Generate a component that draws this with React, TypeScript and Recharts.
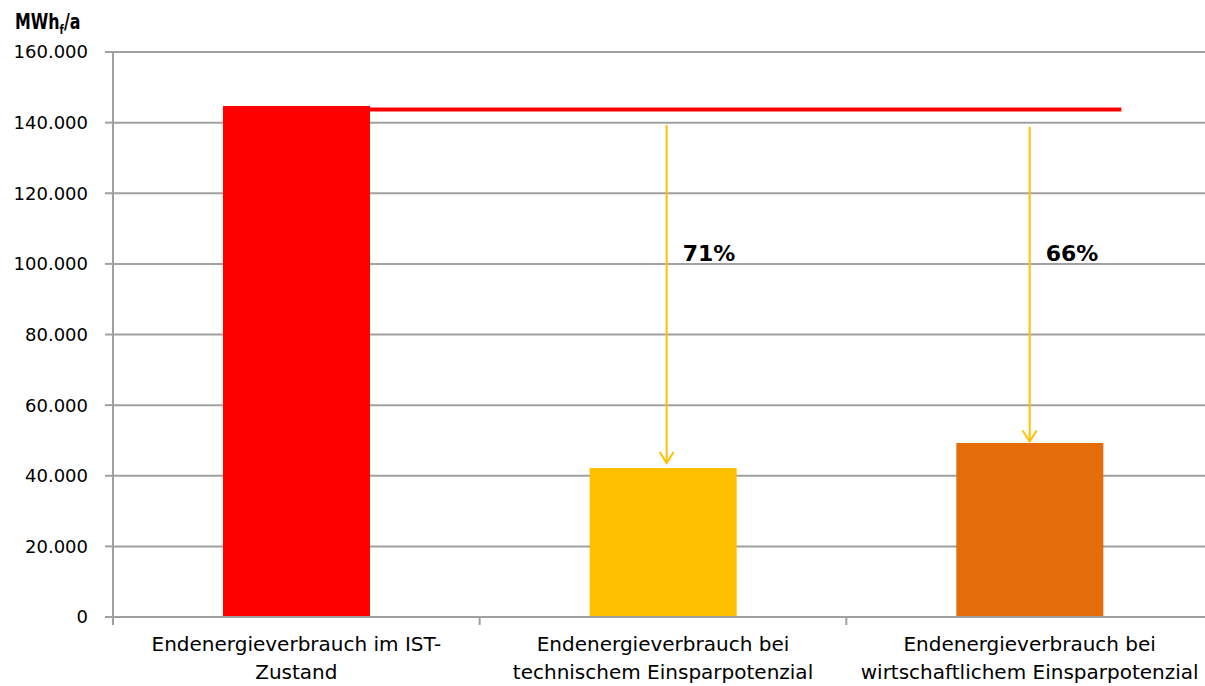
import { ComposedChart, Bar, XAxis, YAxis, CartesianGrid, ReferenceLine, ReferenceDot, Cell } from 'recharts';

// categories (two-line labels) and final energy consumption in MWh_f/a
const categories = [
  'Endenergieverbrauch im IST-\nZustand',
  'Endenergieverbrauch bei\ntechnischem Einsparpotenzial',
  'Endenergieverbrauch bei\nwirtschaftlichem Einsparpotenzial',
];
const consumption = [144700, 42200, 49300];
const barColors = ['#FF0000', '#FFC000', '#E46C0A'];
const yTicks = [0, 20000, 40000, 60000, 80000, 100000, 120000, 140000, 160000];

// reference level of the current state, drawn across the chart (x in category units)
const baselineLevel = 143700;
const baselineFrom = 0.7;
const baselineTo = 2.75;

// savings arrows (x in category units, y in MWh_f/a)
const arrowX = [1.51, 2.5];
const arrowFrom = [139300, 138800];
const arrowTo = [43600, 49700];
const savingsLabels = ['71%', '66%'];
const savingsLabelLevel = 103000;

// x axis in category units: boundaries at whole numbers, labels at the half steps
const xTicks = [0, 0.5, 1, 1.5, 2, 2.5, 3];

const data = categories.map((name, i) => ({ x: i + 0.5, name, value: consumption[i] }));

const formatThousands = (v: number) => String(v).replace(/\B(?=(\d{3})+(?!\d))/g, '.');

function CategoryTick({ x, y, payload }: any) {
  const v = Number(payload.value);
  if (Number.isInteger(v)) {
    return <line x1={x} y1={y} x2={x} y2={y + 8} stroke="#A0A0A0" strokeWidth={2} />;
  }
  const lines = categories[Math.floor(v)].split('\n');
  return (
    <text x={x} y={y} textAnchor="middle" fill="#000" fontSize={20}>
      {lines.map((line, i) => (
        <tspan key={i} x={x} dy={i === 0 ? 34 : 28}>
          {line}
        </tspan>
      ))}
    </text>
  );
}

function ArrowShape({ x1, y1, x2, y2 }: any) {
  return (
    <g>
      <line x1={x1} y1={y1} x2={x2} y2={y2} stroke="#FFC000" strokeWidth={2} />
      <polyline
        points={`${x2 - 7},${y2 - 11} ${x2},${y2} ${x2 + 7},${y2 - 11}`}
        fill="none"
        stroke="#FFC000"
        strokeWidth={2}
      />
    </g>
  );
}

export default function App() {
  return (
    <div
      style={{
        position: 'absolute',
        left: 0,
        top: 0,
        width: 1205,
        height: 686,
        overflow: 'hidden',
        background: '#fff',
        fontFamily: '"DejaVu Sans", Verdana, sans-serif',
      }}
    >
      <div
        style={{
          position: 'absolute',
          left: 15,
          top: 10,
          fontSize: 21,
          fontWeight: 'bold',
          color: '#000',
          fontFamily: '"DejaVu Sans Condensed", "DejaVu Sans", sans-serif',
          transform: 'scaleX(0.84)',
          transformOrigin: 'left center',
        }}
      >
        MWh<sub style={{ fontSize: 13 }}>f</sub>/a
      </div>
      <ComposedChart
        width={1213}
        height={686}
        data={data}
        margin={{ top: 52, right: 0, left: 0, bottom: 0 }}
      >
        <CartesianGrid vertical={false} stroke="#A0A0A0" strokeWidth={2} />
        <XAxis
          dataKey="x"
          type="number"
          domain={[0, 3]}
          ticks={xTicks}
          interval={0}
          height={69}
          tickSize={0}
          tickMargin={0}
          axisLine={{ stroke: '#A0A0A0', strokeWidth: 2 }}
          tickLine={false}
          tick={<CategoryTick />}
        />
        <YAxis
          width={113}
          domain={[0, 160000]}
          ticks={yTicks}
          tickFormatter={formatThousands}
          tickSize={8}
          tickMargin={17}
          axisLine={{ stroke: '#A0A0A0', strokeWidth: 2 }}
          tickLine={{ stroke: '#A0A0A0', strokeWidth: 2 }}
          tick={{ fill: '#000', fontSize: 18 }}
        />
        <Bar dataKey="value" barSize={147} isAnimationActive={false}>
          {data.map((d, i) => (
            <Cell key={d.name} fill={barColors[i]} />
          ))}
        </Bar>
        <ReferenceLine
          segment={[
            { x: baselineFrom, y: baselineLevel },
            { x: baselineTo, y: baselineLevel },
          ]}
          stroke="#FF0000"
          strokeWidth={4}
          ifOverflow="visible"
        />
        {arrowX.map((x, i) => (
          <ReferenceLine
            key={`arrow-${i}`}
            segment={[
              { x, y: arrowFrom[i] },
              { x, y: arrowTo[i] },
            ]}
            shape={<ArrowShape />}
            ifOverflow="visible"
          />
        ))}
        {arrowX.map((x, i) => (
          <ReferenceDot
            key={`label-${i}`}
            x={x}
            y={savingsLabelLevel}
            r={0}
            fill="none"
            stroke="none"
            label={{ value: savingsLabels[i], position: 'right', offset: 16, fill: '#000', fontSize: 22, fontWeight: 'bold' }}
          />
        ))}
      </ComposedChart>
    </div>
  );
}
